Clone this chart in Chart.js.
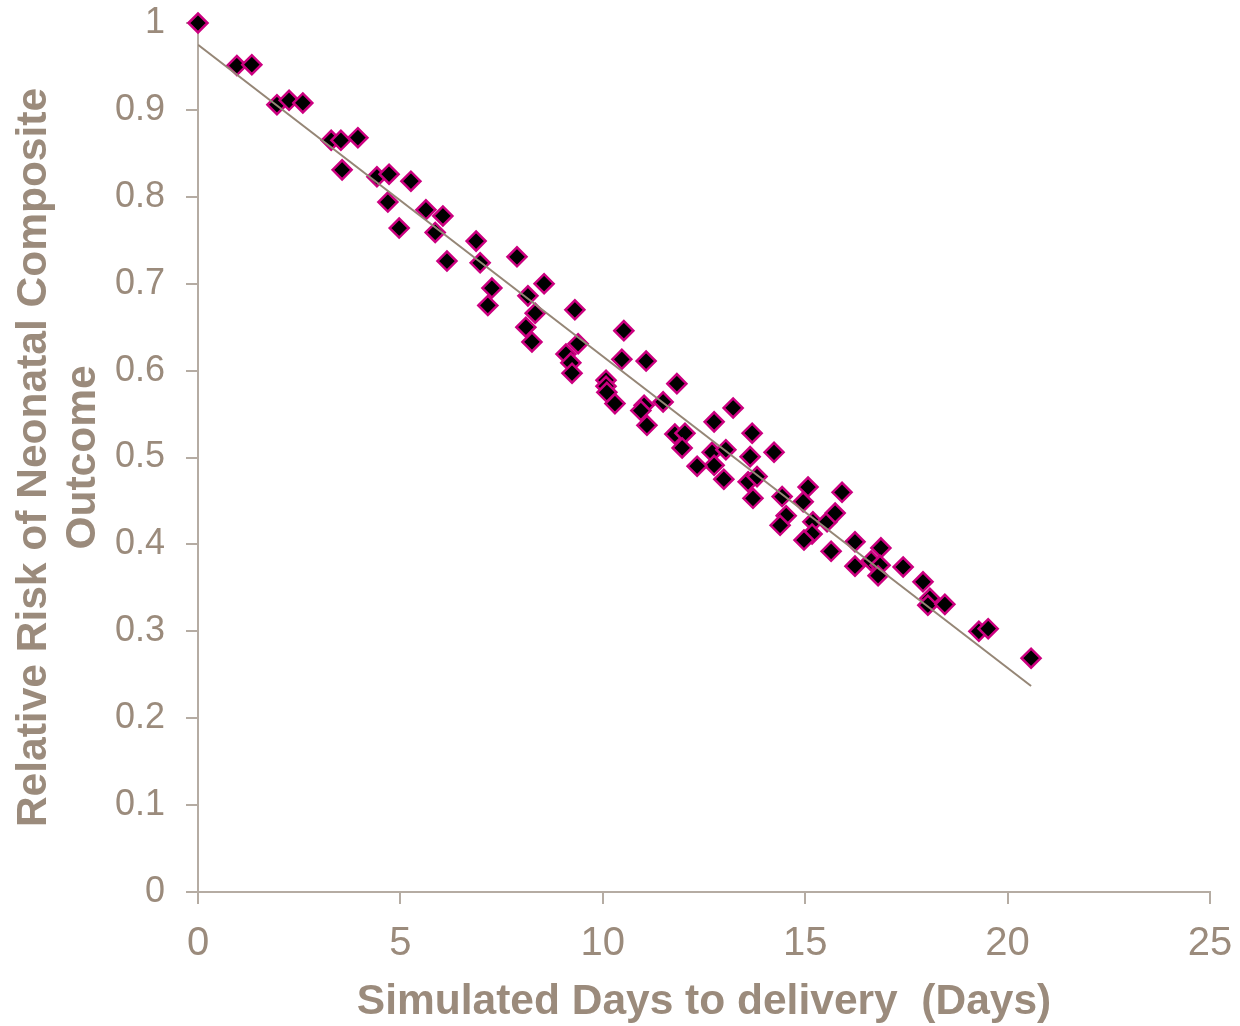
<!DOCTYPE html>
<html>
<head>
<meta charset="utf-8">
<title>Relative Risk of Neonatal Composite Outcome</title>
<script src="https://cdn.jsdelivr.net/npm/chart.js@4/dist/chart.umd.min.js"></script>
<style>
  html, body { margin: 0; padding: 0; background: #ffffff; }
  canvas { display: block; }
</style>
</head>
<body>
<canvas id="chart" width="1240" height="1026"></canvas>
<script>
// Simulated days to delivery (x) and relative risk of the composite outcome (y)
const days = [
  0, 0.96, 1.33, 1.95, 2.25, 2.59, 3.29, 3.53, 3.95, 3.56,
  4.42, 4.72, 5.26, 4.69, 4.97, 5.63, 5.86, 6.05, 6.15, 6.87,
  6.97, 7.88, 7.26, 7.16, 8.15, 8.55, 8.33, 8.10, 8.25, 9.31,
  9.39, 9.09, 9.21, 9.24, 10.52, 10.47, 11.07, 10.08, 10.08, 10.10,
  10.30, 11.02, 10.94, 11.09, 11.49, 11.83, 13.22, 12.75, 11.78, 12.03,
  11.96, 13.69, 12.70, 13.04, 12.75, 12.33, 13.64, 14.23, 12.99, 13.59,
  13.81, 13.71, 14.43, 15.07, 14.95, 15.91, 14.53, 14.38, 15.19, 15.54,
  15.74, 15.17, 14.97, 15.64, 16.23, 16.23, 16.63, 16.87, 16.85, 16.80,
  17.42, 17.91, 18.08, 18.03, 18.45, 19.29, 19.52, 20.58
];
const relativeRisk = [
  1.000, 0.951, 0.952, 0.906, 0.911, 0.908, 0.865, 0.865, 0.868, 0.831,
  0.823, 0.826, 0.818, 0.794, 0.764, 0.785, 0.759, 0.778, 0.726, 0.749,
  0.724, 0.731, 0.695, 0.675, 0.686, 0.700, 0.666, 0.650, 0.633, 0.670,
  0.631, 0.619, 0.609, 0.597, 0.646, 0.613, 0.611, 0.589, 0.582, 0.575,
  0.562, 0.560, 0.554, 0.537, 0.564, 0.585, 0.557, 0.541, 0.527, 0.528,
  0.511, 0.528, 0.506, 0.509, 0.491, 0.490, 0.501, 0.506, 0.475, 0.472,
  0.478, 0.453, 0.455, 0.466, 0.449, 0.460, 0.433, 0.422, 0.426, 0.426,
  0.436, 0.412, 0.405, 0.392, 0.403, 0.375, 0.381, 0.396, 0.376, 0.364,
  0.374, 0.357, 0.338, 0.330, 0.331, 0.300, 0.303, 0.269
];

// Linear trend line end points
const trendDays = [0, 20.58];
const trendRisk = [0.975, 0.237];

// Axis tick settings
const xTickStep = 5;
const yTickStep = 0.1;
const xRange = [0, 25];
const yRange = [0, 1];

const xTitle = 'Simulated Days to delivery  (Days)';
const yTitle = ['Relative Risk of Neonatal Composite', 'Outcome'];

const textColor = '#9b8b7c';
const axisColor = '#b5aca3';
const fontFamily = '"Liberation Sans", Arial, Helvetica, sans-serif';

const points = days.map((d, i) => ({ x: d, y: relativeRisk[i] }));
const trend = trendDays.map((d, i) => ({ x: d, y: trendRisk[i] }));

new Chart(document.getElementById('chart'), {
  type: 'scatter',
  data: {
    datasets: [
      {
        type: 'line',
        label: 'Trend',
        data: trend,
        borderColor: '#958676',
        borderWidth: 2,
        pointRadius: 0,
        fill: false,
        order: 0
      },
      {
        label: 'Relative risk',
        data: points,
        pointStyle: 'rectRot',
        pointRadius: 9.5,
        pointHoverRadius: 9.5,
        backgroundColor: '#000000',
        borderColor: '#cc0080',
        borderWidth: 2.5,
        clip: false,
        order: 1
      }
    ]
  },
  options: {
    responsive: false,
    animation: false,
    devicePixelRatio: 1,
    layout: { padding: { top: 23, right: 30, left: 0, bottom: 0 } },
    plugins: {
      legend: { display: false },
      tooltip: { enabled: false }
    },
    scales: {
      x: {
        type: 'linear',
        min: xRange[0],
        max: xRange[1],
        afterFit: (s) => { s.height = 134; s.paddingLeft = 0; s.paddingRight = 0; },
        ticks: {
          stepSize: xTickStep,
          color: textColor,
          font: { family: fontFamily, size: 40 },
          padding: 16,
          maxRotation: 0
        },
        grid: {
          display: true,
          drawOnChartArea: false,
          drawTicks: true,
          tickLength: 12,
          color: axisColor,
          lineWidth: 2
        },
        border: { display: true, color: axisColor, width: 2 },
        title: {
          display: true,
          text: xTitle,
          color: textColor,
          font: { family: fontFamily, size: 42.5, weight: 'bold', lineHeight: 1.1 },
          padding: { top: 0, bottom: 0 }
        }
      },
      y: {
        type: 'linear',
        min: yRange[0],
        max: yRange[1],
        afterFit: (s) => { s.width = 198; s.paddingTop = 0; s.paddingBottom = 0; },
        ticks: {
          stepSize: yTickStep,
          color: textColor,
          font: { family: fontFamily, size: 36 },
          padding: 21,
          callback: (v) => String(Math.round(v * 10) / 10)
        },
        grid: {
          display: true,
          drawOnChartArea: false,
          drawTicks: true,
          tickLength: 12,
          color: axisColor,
          lineWidth: 2
        },
        border: { display: true, color: axisColor, width: 2 },
        title: {
          display: true,
          text: yTitle,
          color: textColor,
          font: { family: fontFamily, size: 42.5, weight: 'bold', lineHeight: 1.15 },
          padding: { top: 10, bottom: 0 }
        }
      }
    }
  }
});
</script>
</body>
</html>
